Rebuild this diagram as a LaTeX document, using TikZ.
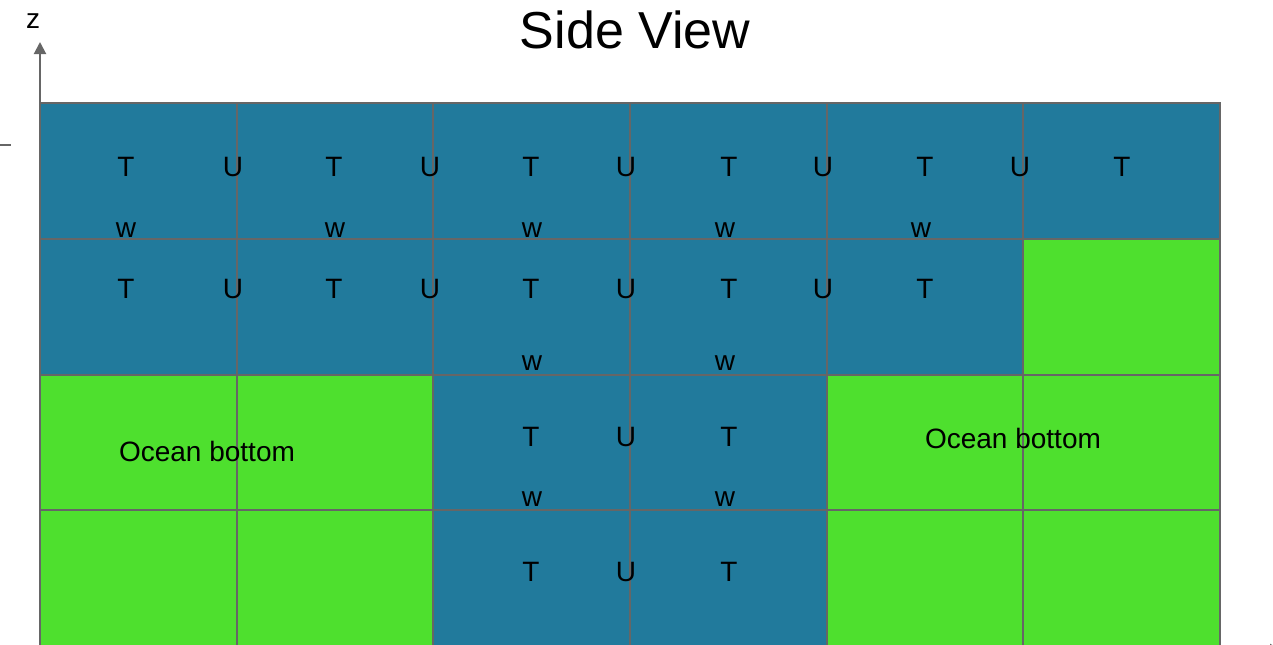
\documentclass[tikz,border=0pt]{standalone}
\usepackage{fontspec}
\setmainfont{Liberation Sans}
\usetikzlibrary{arrows.meta}
\definecolor{sea}{HTML}{217A9C}
\definecolor{land}{HTML}{4EE02E}
\definecolor{gridgray}{HTML}{666666}
\tikzset{
  cellsea/.style={fill=sea, draw=gridgray, line width=1pt},
  cellland/.style={fill=land, draw=gridgray, line width=1pt},
  lbl/.style={inner sep=0pt, font=\fontsize{14pt}{16pt}\selectfont, text=black},
  axis/.style={draw=gridgray, line width=1pt},
  axtip/.style={-{Triangle[length=6pt,width=6pt]}}
}
\begin{document}
\begin{tikzpicture}[x=0.5pt,y=-0.5pt]
\useasboundingbox (0,0) rectangle (1273,644);
\clip (0,0) rectangle (1273,644);
% grid: columns 40,237,433,630,827,1023,1220 ; rows 103,239,375,510,646
\foreach \r/\ya/\yb in {0/103/239,1/239/375,2/375/510,3/510/646}{
  \foreach \c/\xa/\xb in {0/40/237,1/237/433,2/433/630,3/630/827,4/827/1023,5/1023/1220}{
    \pgfmathtruncatemacro{\island}{(\r==1 && \c==5) || (\r>=2 && (\c<=1 || \c>=4)) ? 1 : 0}
    \ifnum\island=1
      \path[cellland] (\xa,\ya) rectangle (\xb,\yb);
    \else
      \path[cellsea] (\xa,\ya) rectangle (\xb,\yb);
    \fi
  }
}
% axes
\coordinate (zbase) at (40,103);
\coordinate (ztip) at (40,42);
\draw[axis,axtip,fill=gridgray] (zbase) -- (ztip);
\node[lbl] (zlab) at (33,21) {z};
\coordinate (xbase) at (40,650);
\coordinate (xtip) at (1282,650);
\draw[axis,axtip,fill=gridgray] (xbase) -- (xtip);
\coordinate (ticka) at (0,145);
\coordinate (tickb) at (11,145);
\draw[axis] (ticka) -- (tickb);
% title
\node[inner sep=0pt, font=\fontsize{26pt}{30pt}\selectfont] (title) at (635,30) {Side View};
% row 0
\foreach \x [count=\i] in {126,334,531,729,925,1122}{\node[lbl] (Ta\i) at (\x,167) {T};}
\foreach \x [count=\i] in {233,430,626,823,1020}{\node[lbl] (Ua\i) at (\x,167) {U};}
\foreach \x [count=\i] in {126,335,532,725,921}{\node[lbl] (wa\i) at (\x,230) {w};}
% row 1
\foreach \x [count=\i] in {126,334,531,729,925}{\node[lbl] (Tb\i) at (\x,289) {T};}
\foreach \x [count=\i] in {233,430,626,823}{\node[lbl] (Ub\i) at (\x,289) {U};}
\foreach \x [count=\i] in {532,725}{\node[lbl] (wb\i) at (\x,363) {w};}
% row 2
\foreach \x [count=\i] in {531,729}{\node[lbl] (Tc\i) at (\x,437) {T};}
\node[lbl] (Uc1) at (626,437) {U};
\foreach \x [count=\i] in {532,725}{\node[lbl] (wc\i) at (\x,499) {w};}
% row 3
\foreach \x [count=\i] in {531,729}{\node[lbl] (Td\i) at (\x,572) {T};}
\node[lbl] (Ud1) at (626,572) {U};
% ocean bottom labels
\node[lbl] (oceanL) at (207,451) {Ocean bottom};
\node[lbl] (oceanR) at (1013,438) {Ocean bottom};
\end{tikzpicture}
\end{document}
